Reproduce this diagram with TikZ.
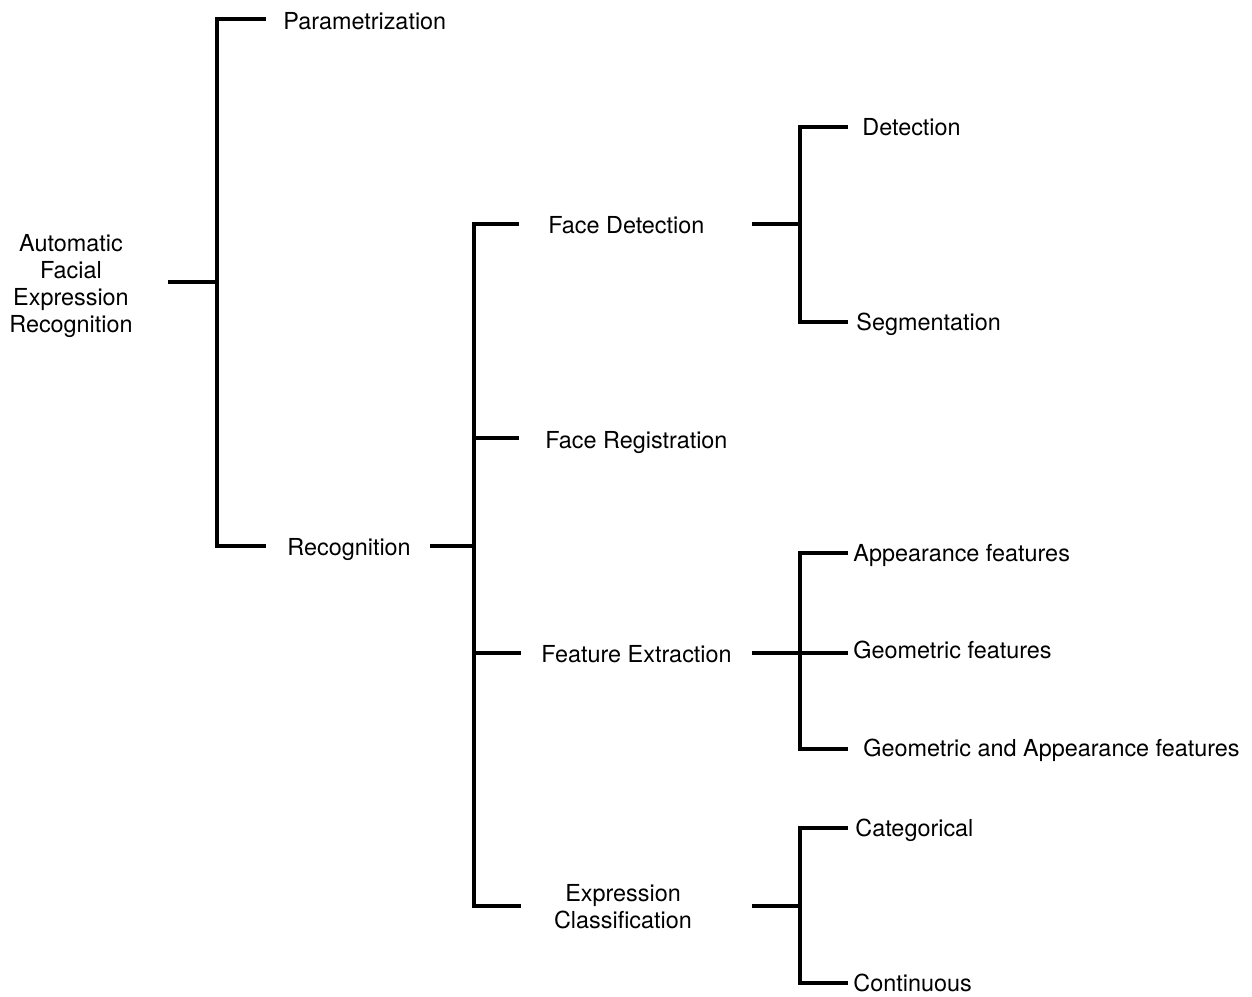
\documentclass[tikz,border=0pt]{standalone}
\usepackage{fontspec}
\setmainfont{TeX Gyre Heros}
\begin{document}
\begin{tikzpicture}[x=0.5pt,y=-0.5pt,
  lbl/.style={anchor=base west,inner sep=0pt,font=\fontsize{11.7pt}{13.6pt}\selectfont},
  mlbl/.style={anchor=center,inner sep=0pt,align=center,font=\fontsize{11.7pt}{13.6pt}\selectfont},
  conn/.style={line width=1.7pt,line join=miter,line cap=butt}]
\useasboundingbox (0,0) rectangle (1252,996);

% labels
\node[mlbl] (root) at (71,286) {Automatic\\Facial\\Expression\\Recognition};
\node[lbl] (param) at (283,29) {Parametrization};
\node[lbl] (recog) at (287,555) {Recognition};
\node[lbl] (fdet) at (548,233) {Face Detection};
\node[lbl] (freg) at (545,448) {Face Registration};
\node[lbl] (fext) at (541,662) {Feature Extraction};
\node[mlbl] (ecls) at (623,907) {Expression\\Classification};
\node[lbl] (det) at (862,135) {Detection};
\node[lbl] (seg) at (856,330) {Segmentation};
\node[lbl] (app) at (853,561) {Appearance features};
\node[lbl] (geo) at (853,658) {Geometric features};
\node[lbl] (gaa) at (863,756) {Geometric and Appearance features};
\node[lbl] (cat) at (855,836) {Categorical};
\node[lbl] (cont) at (853,991) {Continuous};

% connector points
\coordinate (r0) at (168,282);
\coordinate (r1) at (217,282);
\coordinate (p0) at (217,19);  \coordinate (p1) at (265.7,19);
\coordinate (q0) at (217,546); \coordinate (q1) at (265.7,546);
\coordinate (rs0) at (430,546); \coordinate (rs1) at (474,546);
\coordinate (a0) at (474,224); \coordinate (a1) at (519,224);
\coordinate (b0) at (474,438); \coordinate (b1) at (519,438);
\coordinate (c0) at (474,653); \coordinate (c1) at (521,653);
\coordinate (d0) at (474,906); \coordinate (d1) at (521,906);
\coordinate (fs0) at (752,224); \coordinate (fs1) at (800,224);
\coordinate (es0) at (752,653); \coordinate (es1) at (800,653);
\coordinate (cs0) at (752,906); \coordinate (cs1) at (800,906);
\coordinate (t1a) at (800,127); \coordinate (t1b) at (848,127);
\coordinate (t2a) at (800,322); \coordinate (t2b) at (848,322);
\coordinate (u1a) at (800,553); \coordinate (u1b) at (848,553);
\coordinate (u2a) at (800,653); \coordinate (u2b) at (848,653);
\coordinate (u3a) at (800,749); \coordinate (u3b) at (848,749);
\coordinate (v1a) at (800,828); \coordinate (v1b) at (848,828);
\coordinate (v2a) at (800,983); \coordinate (v2b) at (848,983);

% level 1
\draw[conn] (r0) -- (r1);
\draw[conn] (p1) -- (p0) -- (q0) -- (q1);
% level 2
\draw[conn] (rs0) -- (rs1);
\draw[conn] (a1) -- (a0) -- (d0) -- (d1);
\draw[conn] (b0) -- (b1);
\draw[conn] (c0) -- (c1);
% level 3
\draw[conn] (fs0) -- (fs1);
\draw[conn] (t1b) -- (t1a) -- (t2a) -- (t2b);
\draw[conn] (es0) -- (es1);
\draw[conn] (u1b) -- (u1a) -- (u3a) -- (u3b);
\draw[conn] (u2a) -- (u2b);
\draw[conn] (cs0) -- (cs1);
\draw[conn] (v1b) -- (v1a) -- (v2a) -- (v2b);
\end{tikzpicture}
\end{document}
